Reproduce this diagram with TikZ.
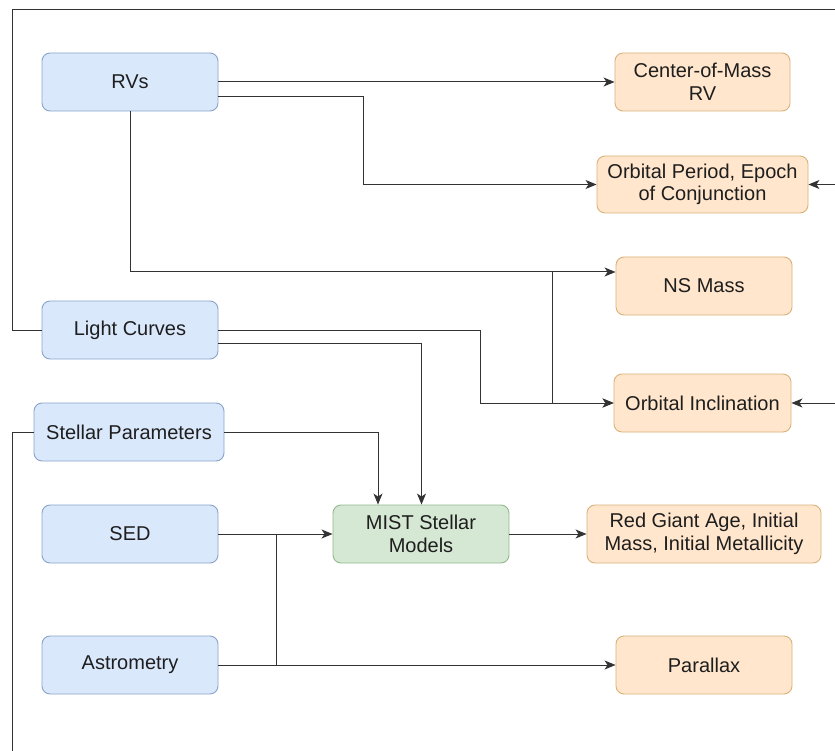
\documentclass[tikz,border=0pt]{standalone}
\usepackage{fontspec}
\setmainfont{Liberation Sans}
\usetikzlibrary{arrows.meta,calc}
\definecolor{bfill}{HTML}{DAE8FC}
\definecolor{bdraw}{HTML}{8AA3C9}
\definecolor{ofill}{HTML}{FFE6CC}
\definecolor{odraw}{HTML}{D9B27A}
\definecolor{gfill}{HTML}{D5E8D4}
\definecolor{gdraw}{HTML}{93B98E}
\definecolor{lncol}{HTML}{333333}
\definecolor{txcol}{HTML}{1E1E1E}
\begin{document}
\begin{tikzpicture}[x=1pt,y=-1pt,
  box/.style={rectangle,rounded corners=8pt,line width=0.9pt,align=center,
    minimum height=58pt,inner sep=2pt,text=txcol,
    font=\fontsize{20}{22.5}\selectfont},
  inbox/.style={box,fill=bfill,draw=bdraw,minimum width=176pt},
  outbox/.style={box,fill=ofill,draw=odraw,minimum width=176pt},
  midbox/.style={box,fill=gfill,draw=gdraw,minimum width=176pt},
  conn/.style={draw=lncol,line width=1pt},
  arr/.style={conn,-{Stealth[length=11pt,width=9pt,inset=3pt]}}]
\useasboundingbox (0,0) rectangle (835,751);
\clip (0,0) rectangle (835,751);
\fill[white] (0,0) rectangle (835,751);

% input boxes
\node[inbox] (rvs) at (130,82) {RVs};
\node[inbox] (lc) at (130,330) {Light Curves};
\node[inbox,minimum width=190pt] (sp) at (129,432) {Stellar Parameters};
\node[inbox] (sed) at (130,534) {SED};
\node[inbox] (astro) at (130,665) {Astrometry};
% model
\node[midbox] (mist) at (421,534) {MIST Stellar\\Models};
% outputs
\node[outbox,minimum width=175pt] (com) at (702.5,82) {Center-of-Mass\\RV};
\node[outbox,minimum width=211pt,minimum height=57pt] (orbp) at (702.5,184.5) {Orbital Period, Epoch\\of Conjunction};
\node[outbox] (ns) at (704,286) {NS Mass};
\node[outbox,minimum width=177pt] (incl) at (702.5,403) {Orbital Inclination};
\node[outbox,minimum width=234pt] (rg) at (704,534) {Red Giant Age, Initial\\Mass, Initial Metallicity};
\node[outbox] (par) at (704,665) {Parallax};

% junction / corner coordinates
\coordinate (jns) at (552,272);
\coordinate (jsed) at (276,534);
\coordinate (ftl) at (12,10);
\coordinate (ftr) at (860,10);
\coordinate (fbl) at (12,780);
\coordinate (fbr) at (860,780);

% RVs
\draw[arr] (rvs.east) -- (com.west);
\draw[arr] ($(rvs.east)+(0,15)$) -- ++(145,0) |- (orbp.west);
\draw[arr] (rvs.south) |- ($(ns.west)+(0,-14)$);
\draw[arr] (jns) |- (incl.west);
% Light curves
\draw[arr] (lc.east) -- ++(262,0) |- (incl.west);
\draw[arr] ($(lc.east)+(0,13)$) -| ($(mist.north)+(0.5,0)$);
\draw[conn] (lc.west) -- (12,330) -- (ftl) -- (ftr);
\draw[arr] (ftr) |- (orbp.east);
% Stellar parameters
\draw[arr] (sp.east) -| ($(mist.north)+(-43,0)$);
\draw[conn] (sp.west) -- (12,432) -- (fbl) -- (fbr);
\draw[arr] (fbr) |- (incl.east);
% SED & astrometry
\draw[arr] (sed.east) -- (mist.west);
\draw[conn] (jsed) -- (jsed |- astro.east);
\draw[arr] (astro.east) -- (par.west);
% MIST
\draw[arr] (mist.east) -- (rg.west);
\end{tikzpicture}
\end{document}
